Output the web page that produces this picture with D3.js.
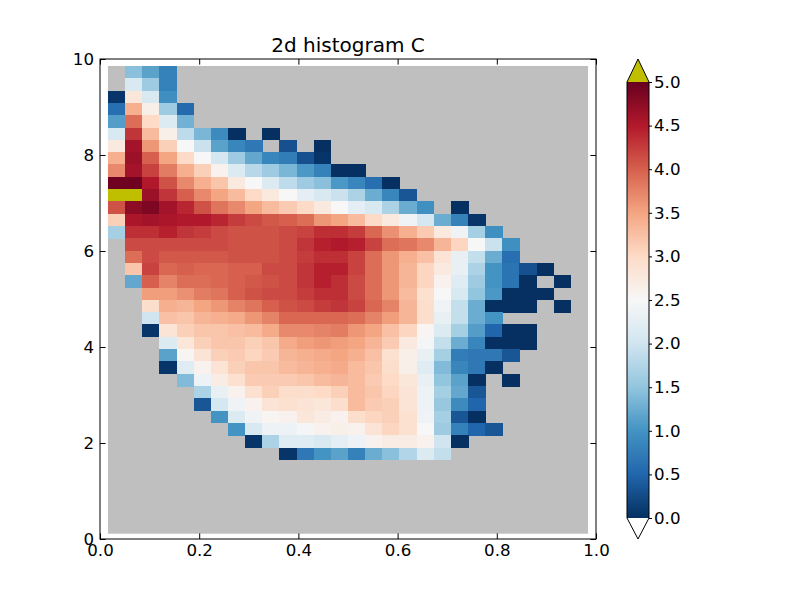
<!DOCTYPE html>
<html>
<head>
<meta charset="utf-8">
<script src="https://cdn.jsdelivr.net/npm/d3@7"></script>
<style>
  body { margin: 0; background: #fff; }
  svg { display: block; }
  text { font-family: "DejaVu Sans", sans-serif; }
</style>
</head>
<body>
<svg id="chart" width="800" height="600"></svg>
<script>
// Chart values.
const n = null;
const titleText = "2d histogram C";
const xTicks = [ 0, 0.2, 0.4, 0.6, 0.8, 1.0 ];
const yTicks = [ 0, 2, 4, 6, 8, 10 ];
const cbTicks = [ 0, 0.5, 1, 1.5, 2, 2.5, 3, 3.5, 4, 4.5, 5 ];
const binRangeX = [ 0.016, 0.984 ];
const binRangeY = [ 0.11, 9.855 ];
const nBinsX = 28, nBinsY = 38;
const vRange = [ 0, 5 ];

// Histogram rows, top row first; null = empty bin.
const hist = [
  [n,1.45,1.15,0.8],
  [n,2.1,1.6,0.8],
  [0.05,2.8,2.1,0.95],
  [0.6,3.4,2.65,1.6,0.55],
  [1.1,3.9,3.0,2.15,1.3],
  [2.1,4.3,3.3,2.65,1.85,1.35,0.9,0.0,n,0.0],
  [2.75,4.6,3.6,3.1,2.5,1.95,1.15,0.85,0.7,n,0.3,n,0.0],
  [3.4,4.65,4.0,3.5,3.0,2.5,2.05,1.6,1.2,0.85,0.75,0.3,0.05],
  [3.7,4.6,4.2,3.8,3.4,3.1,2.6,2.15,1.8,1.6,1.35,1.05,0.8,0.0,0.0],
  [4.95,4.95,4.5,4.1,3.7,3.4,3.2,2.75,2.5,2.15,1.85,1.6,1.45,1.05,0.85,0.6,0.0],
  [5.2,5.2,4.65,4.3,4.0,3.7,3.5,3.3,3.0,2.75,2.5,2.25,2.1,1.95,1.7,1.25,0.85,0.35],
  [4.1,4.75,4.85,4.6,4.4,4.1,3.85,3.7,3.5,3.3,3.15,3.0,2.75,2.5,2.25,2.1,1.7,1.25,0.95,n,0.0],
  [3.1,4.55,4.6,4.55,4.5,4.5,4.4,4.25,4.15,4.05,4.0,3.9,3.6,3.5,3.3,3.0,2.75,2.4,2.05,1.25,0.8,0.05],
  [1.65,4.35,4.35,4.45,4.3,4.25,4.15,4.1,4.1,4.1,4.15,4.2,4.35,4.35,4.25,3.95,3.65,3.4,3.15,2.75,2.4,1.65,0.95],
  [n,4.15,4.15,4.15,4.15,4.15,4.15,4.1,4.1,4.1,4.15,4.3,4.45,4.5,4.45,4.2,3.9,3.85,3.7,3.35,3.05,2.5,1.95,0.95],
  [n,3.9,4.15,4.05,4.05,4.05,4.05,4.1,4.1,4.1,4.15,4.25,4.35,4.35,4.2,3.9,3.6,3.4,3.25,2.85,2.3,1.9,1.25,0.6],
  [n,3.2,4.2,3.95,4.0,3.95,3.95,4.0,4.0,4.15,4.15,4.3,4.45,4.45,4.2,3.9,3.6,3.35,3.05,2.75,2.3,1.7,1.0,0.65,0.3,0.0],
  [n,1.2,4.0,3.75,3.9,3.9,3.95,4.0,4.05,4.1,4.15,4.3,4.45,4.35,4.15,3.9,3.6,3.35,3.05,2.6,2.2,1.6,1.0,0.65,0.0,n,0.0],
  [n,n,3.55,3.55,3.65,3.8,3.85,4.0,4.1,4.15,4.15,4.25,4.35,4.35,4.15,3.9,3.6,3.3,2.9,2.5,2.1,1.5,1.05,0.0,0.0,0.0],
  [n,n,2.95,3.4,3.35,3.5,3.6,3.75,3.85,4.0,4.1,4.15,4.25,4.3,4.2,3.95,3.75,3.35,2.95,2.4,1.9,1.25,0.0,0.0,0.0,n,0.0],
  [n,n,2.0,3.25,3.2,3.35,3.4,3.45,3.6,3.75,3.95,3.95,3.95,3.95,3.9,3.75,3.55,3.35,2.95,2.3,1.9,1.25,1.0],
  [n,n,0.05,2.85,3.1,3.2,3.2,3.25,3.3,3.45,3.7,3.7,3.75,3.8,3.6,3.5,3.25,3.05,2.55,2.15,1.65,1.1,0.5,0.0,0.0],
  [n,n,n,2.15,2.8,3.1,3.2,3.2,3.1,3.2,3.45,3.55,3.6,3.55,3.5,3.35,3.15,2.75,2.45,1.9,1.25,0.85,0.0,0.0,0.0],
  [n,n,n,1.15,2.55,2.85,3.1,3.15,3.05,3.15,3.35,3.4,3.45,3.5,3.4,3.25,2.9,2.65,2.3,1.65,0.75,0.7,0.7,0.35],
  [n,n,n,0.05,2.2,2.6,2.85,3.1,3.2,3.2,3.3,3.35,3.4,3.45,3.3,3.2,2.95,2.65,2.2,1.4,0.85,0.7,0.0],
  [n,n,n,n,1.4,2.35,2.7,2.9,3.15,3.15,3.15,3.2,3.3,3.35,3.3,3.15,3.0,2.8,2.3,1.5,1.15,0.0,n,0.0],
  [n,n,n,n,n,1.7,2.3,2.6,2.9,3.1,2.95,2.95,3.0,3.1,3.3,3.2,3.05,2.85,2.35,1.65,1.2,0.35],
  [n,n,n,n,n,0.35,2.05,2.4,2.6,2.85,2.9,2.85,2.8,2.95,3.3,3.15,3.1,2.85,2.35,1.55,0.9,0.5],
  [n,n,n,n,n,n,1.0,2.15,2.4,2.55,2.6,2.8,2.7,2.6,2.95,3.05,3.1,2.9,2.4,1.65,0.35,0.0],
  [n,n,n,n,n,n,n,1.0,2.1,2.35,2.35,2.45,2.6,2.65,2.6,2.85,3.05,2.9,2.5,1.6,0.8,0.5,0.35],
  [n,n,n,n,n,n,n,n,0.05,1.7,2.2,2.2,2.1,2.25,2.35,2.6,2.7,2.7,2.6,2.0,0.0],
  [n,n,n,n,n,n,n,n,n,n,0.05,0.7,1.0,1.15,0.8,1.25,1.45,1.75,2.15,1.9]
];

// RdBu_r colormap stops, plus the over / under / bad colours.
const cmapStops = [ "#053061", "#2166ac", "#4393c3", "#92c5de", "#d1e5f0", "#f7f7f7",
                    "#fddbc7", "#f4a582", "#d6604d", "#b2182b", "#67001f" ];
const overColor = "#bfbf00", underColor = "#ffffff", badColor = "#bfbfbf";

// Layout.
const axLeft = 100, axRight = 596, axTop = 59, axBottom = 539;
const cbLeft = 627, cbRight = 649, cbTop = 82, cbBottom = 518, cbTipTop = 59, cbTipBottom = 539;
const fontSize = 16.67, tickLen = 5.6;

const svg = d3.select( "#chart" );
const xScale = d3.scaleLinear().domain([ 0, 1 ]).range([ axLeft, axRight ]);
const yScale = d3.scaleLinear().domain([ 0, 10 ]).range([ axBottom, axTop ]);
const color = d3.scaleLinear()
    .domain( cmapStops.map(( c, i ) => vRange[ 0 ] + i * ( vRange[ 1 ] - vRange[ 0 ]) / ( cmapStops.length - 1 )))
    .range( cmapStops )
    .interpolate( d3.interpolateRgb );
const cellColor = v => v > vRange[ 1 ] ? overColor : v < vRange[ 0 ] ? underColor : color( v );

// Empty bins: one grey rectangle under the whole bin range.
svg.append( "rect" )
    .attr( "x", xScale( binRangeX[ 0 ]))
    .attr( "y", yScale( binRangeY[ 1 ]))
    .attr( "width", xScale( binRangeX[ 1 ]) - xScale( binRangeX[ 0 ]))
    .attr( "height", yScale( binRangeY[ 0 ]) - yScale( binRangeY[ 1 ]))
    .attr( "fill", badColor );

// Filled bins.
const dx = ( binRangeX[ 1 ] - binRangeX[ 0 ]) / nBinsX,
      dy = ( binRangeY[ 1 ] - binRangeY[ 0 ]) / nBinsY;
const cells = [];
hist.forEach(( row, r ) => {
    row.forEach(( v, c ) => {
        if ( v !== null ) cells.push({ r, c, v });
    });
});
svg.append( "g" )
    .attr( "shape-rendering", "crispEdges" )
    .selectAll( "rect" )
    .data( cells )
    .join( "rect" )
    .attr( "x", d => xScale( binRangeX[ 0 ] + d.c * dx ))
    .attr( "y", d => yScale( binRangeY[ 1 ] - d.r * dy ))
    .attr( "width", d => xScale( binRangeX[ 0 ] + ( d.c + 1 ) * dx ) - xScale( binRangeX[ 0 ] + d.c * dx ) + 0.5 )
    .attr( "height", d => yScale( binRangeY[ 1 ] - ( d.r + 1 ) * dy ) - yScale( binRangeY[ 1 ] - d.r * dy ) + 0.5 )
    .attr( "fill", d => cellColor( d.v ));

// Axes, ticks inward on all four sides.
const fmt1 = d3.format( ".1f" );
const styleAxis = g => {
    g.select( ".domain" ).remove();
    g.selectAll( "line" ).attr( "stroke", "#000" );
    g.selectAll( "text" ).attr( "font-size", fontSize ).attr( "fill", "#000" ).attr( "font-family", "DejaVu Sans" );
};
svg.append( "g" )
    .attr( "transform", "translate(0," + axBottom + ")" )
    .call( d3.axisBottom( xScale ).tickValues( xTicks ).tickFormat( fmt1 ).tickSize( -tickLen ).tickPadding( 5 ))
    .call( styleAxis );
svg.append( "g" )
    .attr( "transform", "translate(0," + axTop + ")" )
    .call( d3.axisTop( xScale ).tickValues( xTicks ).tickFormat( "" ).tickSize( -tickLen ))
    .call( styleAxis );
svg.append( "g" )
    .attr( "transform", "translate(" + axLeft + ",0)" )
    .call( d3.axisLeft( yScale ).tickValues( yTicks ).tickFormat( d3.format( "d" )).tickSize( -tickLen ).tickPadding( 6 ))
    .call( styleAxis );
svg.append( "g" )
    .attr( "transform", "translate(" + axRight + ",0)" )
    .call( d3.axisRight( yScale ).tickValues( yTicks ).tickFormat( "" ).tickSize( -tickLen ))
    .call( styleAxis );
svg.append( "rect" )
    .attr( "x", axLeft ).attr( "y", axTop )
    .attr( "width", axRight - axLeft ).attr( "height", axBottom - axTop )
    .attr( "fill", "none" ).attr( "stroke", "#000" ).attr( "stroke-width", 1 );

// Title.
svg.append( "text" )
    .attr( "x", ( axLeft + axRight ) / 2 )
    .attr( "y", 52 )
    .attr( "text-anchor", "middle" )
    .attr( "font-size", 20 )
    .text( titleText );

// Colorbar.
const cbScale = d3.scaleLinear().domain( vRange ).range([ cbBottom, cbTop ]);
const grad = svg.append( "defs" ).append( "linearGradient" )
    .attr( "id", "cbgrad" )
    .attr( "x1", 0 ).attr( "y1", 1 ).attr( "x2", 0 ).attr( "y2", 0 );
grad.selectAll( "stop" )
    .data( color.domain())
    .join( "stop" )
    .attr( "offset", d => ( d - vRange[ 0 ]) / ( vRange[ 1 ] - vRange[ 0 ]))
    .attr( "stop-color", d => color( d ));
svg.append( "rect" )
    .attr( "x", cbLeft ).attr( "y", cbScale( vRange[ 1 ]))
    .attr( "width", cbRight - cbLeft ).attr( "height", cbScale( vRange[ 0 ]) - cbScale( vRange[ 1 ]))
    .attr( "fill", "url(#cbgrad)" );
const cbMid = ( cbLeft + cbRight ) / 2;
svg.append( "path" )
    .attr( "d", "M" + cbLeft + "," + cbTop + "L" + cbMid + "," + cbTipTop + "L" + cbRight + "," + cbTop + "Z" )
    .attr( "fill", overColor );
svg.append( "path" )
    .attr( "d", "M" + cbLeft + "," + cbBottom + "L" + cbMid + "," + cbTipBottom + "L" + cbRight + "," + cbBottom + "Z" )
    .attr( "fill", underColor );
svg.append( "path" )
    .attr( "d", "M" + cbLeft + "," + cbTop + "L" + cbMid + "," + cbTipTop + "L" + cbRight + "," + cbTop +
                "L" + cbRight + "," + cbBottom + "L" + cbMid + "," + cbTipBottom + "L" + cbLeft + "," + cbBottom + "Z" )
    .attr( "fill", "none" ).attr( "stroke", "#000" ).attr( "stroke-width", 1 );
svg.append( "g" )
    .attr( "transform", "translate(" + cbRight + ",0)" )
    .call( d3.axisRight( cbScale ).tickValues( cbTicks ).tickFormat( fmt1 ).tickSize( 3 ).tickPadding( 2 ))
    .call( styleAxis );
</script>
</body>
</html>
